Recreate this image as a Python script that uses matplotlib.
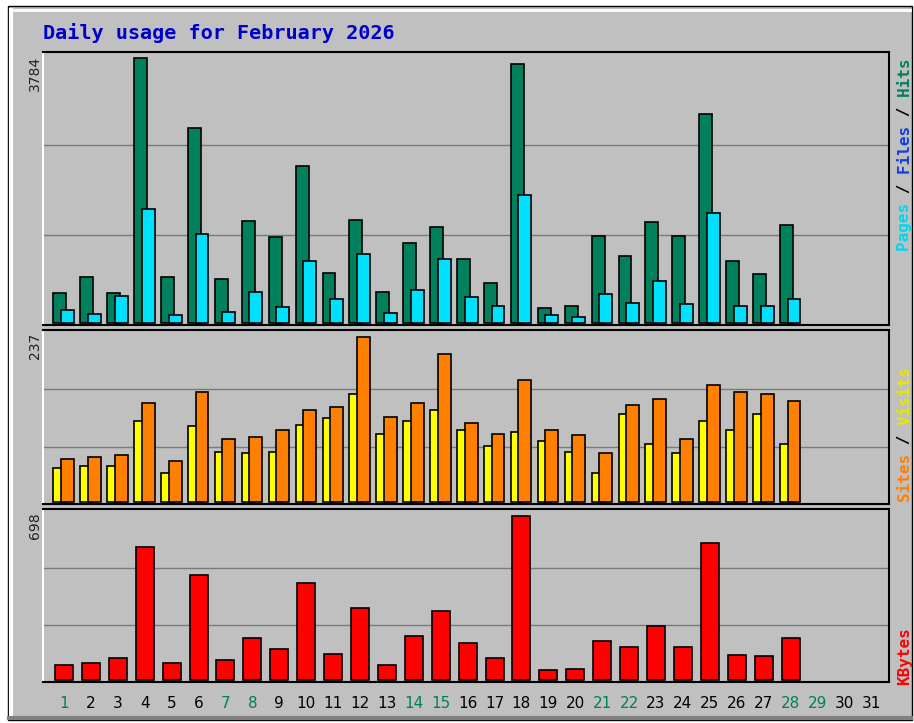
import numpy as np
import matplotlib.pyplot as plt
from matplotlib.patches import Rectangle
from matplotlib.lines import Line2D

# Données (février 2026, jours 1 à 28)
days = np.arange(1, 29)
hits = [428, 657, 428, 3784, 657, 2785, 628, 1457, 1228, 2242, 714, 1471, 443, 1142,
        1371, 914, 571, 3698, 214, 243, 1242, 957, 1442, 1242, 2985, 885, 700, 1400]
pages = [186, 128, 385, 1628, 114, 1271, 157, 443, 228, 885, 343, 985, 143, 471,
         914, 371, 243, 1828, 114, 86, 414, 285, 600, 271, 1571, 243, 243, 343]
sites = [49, 52, 52, 116, 42, 109, 72, 70, 72, 111, 121, 155, 98, 116,
         132, 103, 80, 101, 88, 72, 42, 126, 83, 70, 116, 103, 126, 83]
visits = [62, 65, 67, 142, 59, 158, 90, 93, 103, 132, 136, 237, 122, 142,
          213, 113, 98, 175, 103, 96, 70, 139, 148, 90, 168, 158, 155, 145]
kbytes = [64, 72, 94, 566, 72, 447, 85, 179, 132, 413, 111, 306, 64, 187,
          294, 157, 94, 698, 43, 47, 166, 140, 230, 140, 583, 106, 102, 179]

month_days = list(range(1, 32))
weekend = [1, 7, 8, 14, 15, 21, 22, 28, 29]
title = 'Daily usage for February 2026'

W, H = 914, 723
fig = plt.figure(figsize=(W / 100, H / 100), dpi=100, facecolor='white')


def fx(x):
    return x / W


def fy(y):
    return 1 - y / H


# Cadre extérieur style webalizer
fig.add_artist(Rectangle((fx(8), fy(720)), fx(904), 714 / H, transform=fig.transFigure,
                         facecolor='#C0C0C0', edgecolor='black', lw=1, zorder=0))
fig.add_artist(Line2D([fx(11), fx(910)], [fy(10), fy(10)], transform=fig.transFigure,
                      color='white', lw=2))
fig.add_artist(Line2D([fx(11), fx(11)], [fy(10), fy(716)], transform=fig.transFigure,
                      color='white', lw=3))
fig.add_artist(Line2D([fx(9), fx(911)], [fy(718), fy(718)], transform=fig.transFigure,
                      color='#808080', lw=3))

fig.text(fx(43), fy(33), title, color='#0000CC', fontfamily='DejaVu Sans Mono',
         fontweight='bold', fontsize=14.5, va='center', ha='left')

XL, XR = 43, 889


def panel(top, bottom):
    ax = fig.add_axes([fx(XL), fy(bottom), (XR - XL) / W, (bottom - top) / H])
    ax.set_facecolor('#C0C0C0')
    ax.set_xlim(0.22, 31.66)
    for s in ('top', 'right', 'bottom'):
        ax.spines[s].set_color('black')
        ax.spines[s].set_linewidth(1.5)
    ax.spines['left'].set_color('white')
    ax.spines['left'].set_linewidth(1.5)
    ax.tick_params(length=0, labelleft=False, labelbottom=False)
    ax.set_axisbelow(True)
    ax.grid(axis='y', color='#7A7A7A', lw=1)
    ax.grid(axis='x', visible=False)
    return ax


def setup_y(ax, vmax, top_frac, bot_frac):
    lo = -vmax * bot_frac
    hi = vmax * top_frac
    ax.set_ylim(lo, hi)
    ax.set_yticks([lo + (hi - lo) * 0.33, lo + (hi - lo) * 0.66])


# Hits / Pages
ax1 = panel(52, 325)
ax1.bar(days - 0.15, hits, width=0.48, color='#00805C', edgecolor='black', lw=1.2)
ax1.bar(days + 0.13, pages, width=0.48, color='#00E0FF', edgecolor='black', lw=1.2)
setup_y(ax1, max(hits), 1.023, 0.0075)

# Sites / Visits
ax2 = panel(330, 504)
ax2.bar(days - 0.15, sites, width=0.48, color='#FFFF00', edgecolor='black', lw=1.2)
ax2.bar(days + 0.13, visits, width=0.48, color='#FF8000', edgecolor='black', lw=1.2)
setup_y(ax2, max(visits), 1.042, 0.012)

# KBytes
ax3 = panel(509, 682)
ax3.bar(days, kbytes, width=0.67, color='#FF0000', edgecolor='black', lw=1.2)
setup_y(ax3, max(kbytes), 1.043, 0.012)
ax3.set_xticks(month_days)
ax3.set_xticklabels([str(d) for d in month_days], fontsize=11)
ax3.tick_params(labelbottom=True, pad=10)
for lab, d in zip(ax3.get_xticklabels(), month_days):
    lab.set_color('#00805C' if d in weekend else 'black')

# valeurs maximales à gauche
for val, ytop in ((max(hits), 56), (max(visits), 333), (max(kbytes), 512)):
    fig.text(fx(35), fy(ytop), str(val), rotation=90, ha='center', va='top',
             fontsize=10, color='#222222')


# légendes verticales à droite (texte monospace, coloré par segment)
def vlabel(parts, y_start):
    full = ''.join(t for t, _ in parts)
    pos = 0
    for t, c in parts:
        s = ' ' * pos + t + ' ' * (len(full) - pos - len(t))
        fig.text(fx(905), fy(y_start), s, rotation=90, rotation_mode='anchor',
                 ha='left', va='center', color=c, fontfamily='DejaVu Sans Mono',
                 fontweight='bold', fontsize=11.5)
        pos += len(t)


vlabel([('Pages', '#00D8F0'), (' / ', 'black'), ('Files', '#1040E0'),
        (' / ', 'black'), ('Hits', '#00805C')], 251)
vlabel([('Sites', '#FF8000'), (' / ', 'black'), ('Visits', '#E8E800')], 502)
vlabel([('KBytes', '#FF0000')], 685)

plt.savefig('out.png', dpi=100, facecolor=fig.get_facecolor())
plt.close()
